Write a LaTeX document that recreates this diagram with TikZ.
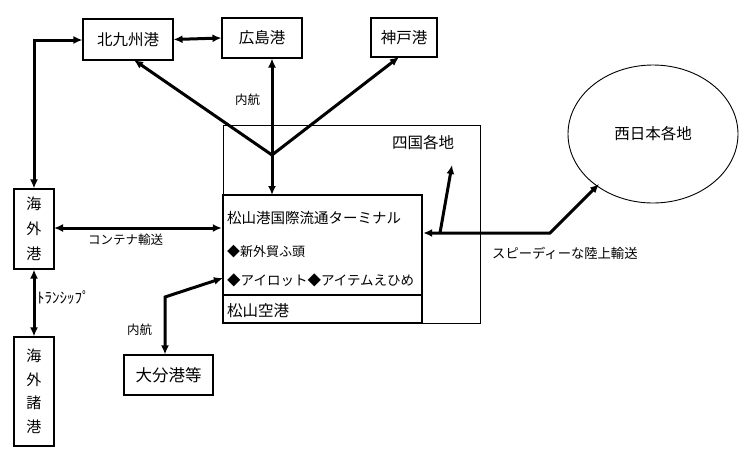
\documentclass[tikz,border=0pt]{standalone}
\usepackage{fontspec}
\setmainfont{Noto Sans CJK JP}
\usetikzlibrary{arrows.meta,shapes.geometric}
\begin{document}
\begin{tikzpicture}[x=1pt,y=-1pt,
  box/.style={draw,line width=1.1pt,inner sep=0pt},
  conn/.style={line width=3pt,{Latex[length=9pt,width=8pt]}-{Latex[length=9pt,width=8pt]}},
  oneway/.style={line width=3pt,-{Latex[length=9pt,width=8pt]}},
  lbl/.style={font=\fontsize{12.5}{14}\selectfont,inner sep=0pt},
  bt/.style={font=\fontsize{15.5}{18}\selectfont}]
\useasboundingbox (0,0) rectangle (750,456);
% boxes
\node[box,minimum width=90pt,minimum height=41pt,bt] (kita) at (128,39.5) {北九州港};
\node[box,minimum width=80pt,minimum height=40pt,bt] (hiro) at (262,38) {広島港};
\node[box,minimum width=66pt,minimum height=39pt,bt] (kobe) at (404,37.5) {神戸港};
\node[box,minimum width=40pt,minimum height=80pt,font=\fontsize{15}{25}\selectfont,align=center] (kaigai) at (34,229) {海\\外\\港};
\node[box,minimum width=40pt,minimum height=109pt,font=\fontsize{15}{23.5}\selectfont,align=center] (shoko) at (34,391.5) {海\\外\\諸\\港};
\node[box,minimum width=89pt,minimum height=40pt,font=\fontsize{16.5}{18}\selectfont] (oita) at (168.5,375) {大分港等};
% shikoku region
\draw[line width=0.8pt] (223,125) rectangle (480,323);
\node[font=\fontsize{15.5}{18}\selectfont,anchor=west,inner sep=0pt] (shikoku) at (392,143) {四国各地};
% terminal
\node[draw,line width=2.4pt,minimum width=199pt,minimum height=128pt,inner sep=0pt] (term) at (322.5,259) {};
\coordinate (divl) at (223,295);
\coordinate (divr) at (422,295);
\draw[line width=1.6pt] (divl) -- (divr);
\node[anchor=west,inner sep=0pt,font=\fontsize{14.5}{16}\selectfont] (t1) at (227,218) {松山港国際流通ターミナル};
\node[anchor=west,inner sep=0pt,font=\fontsize{13}{15}\selectfont] (t2) at (227,252) {◆新外貿ふ頭};
\node[anchor=west,inner sep=0pt,font=\fontsize{13.5}{15}\selectfont] (t3) at (227,280) {◆アイロット◆アイテムえひめ};
\node[anchor=west,inner sep=0pt,font=\fontsize{15.5}{18}\selectfont] (t4) at (227,311) {松山空港};
% ellipse
\node[draw,line width=0.9pt,ellipse,minimum width=170pt,minimum height=138pt,font=\fontsize{15.5}{18}\selectfont] (west) at (653,134) {西日本各地};
% connectors
\draw[conn] (kita.east) -- (hiro.west);
\coordinate (nwcorner) at (34,40);
\draw[conn] (kaigai.north) -- (nwcorner) -- (kita.west |- nwcorner);
\draw[conn] (kaigai.south) -- (shoko.north);
\node[anchor=west,inner sep=0pt,font=\fontsize{15}{16}\selectfont] (tship) at (37,298) {ﾄﾗﾝｼｯﾌﾟ};
\coordinate (kcont) at (54,228);
\draw[conn] (kcont) -- (kcont -| term.west);
\node[lbl,anchor=west] (cont) at (88,240) {コンテナ輸送};
% oita
\coordinate (ocorner) at (165,297);
\coordinate (oend) at (223,278);
\draw[conn] (oita.north -| ocorner) -- (ocorner) -- (oend);
\node[lbl,anchor=west] (naiko2) at (127,330) {内航};
% junction
\coordinate (jn) at (272,155);
\coordinate (kitab) at (134,60);
\coordinate (kobeb) at (399,57);
\draw[oneway] (jn) -- (kitab);
\draw[oneway] (jn) -- (kobeb);
\draw[oneway] (jn) -- (272,58.5);
\draw[oneway] (jn) -- (272,195);
\node[lbl,anchor=west] (naiko1) at (235,100) {内航};
% land transport
\coordinate (lcorner) at (550,233);
\coordinate (lbranch) at (440,233);
\coordinate (ltop) at (452,165);
\coordinate (wend) at (599,184);
\draw[conn] (term.east |- lcorner) -- (lcorner) -- (wend);
\draw[oneway] (lbranch) -- (ltop);
\node[anchor=west,inner sep=0pt,font=\fontsize{13.3}{14}\selectfont] (speedy) at (492,253) {スピーディーな陸上輸送};
\end{tikzpicture}
\end{document}
